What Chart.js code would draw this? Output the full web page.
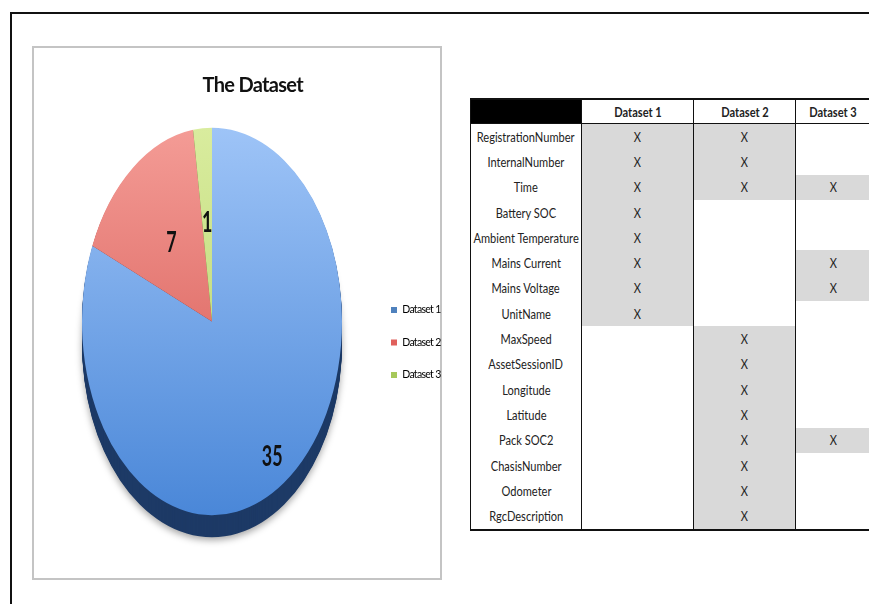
<!DOCTYPE html>
<html>
<head>
<meta charset="utf-8">
<script src="https://cdn.jsdelivr.net/npm/chart.js@4.4.1/dist/chart.umd.min.js"></script>
<style>
  html, body { margin: 0; padding: 0; width: 869px; height: 604px; overflow: hidden; background: #fff; }
  .frame { position: absolute; left: 10px; top: 12px; width: 900px; height: 700px; border: 2px solid #111; box-sizing: border-box; }
  .chartbox { position: absolute; left: 32px; top: 46px; width: 410px; height: 534px; border: 2px solid #c4c4c4; box-sizing: border-box; background: #fff; }
  #pie { position: absolute; left: 34px; top: 48px; }
  table.fields {
    position: absolute; left: 470px; top: 98px; width: 400px;
    border-collapse: collapse; table-layout: fixed;
    font-family: Lato, "Open Sans", sans-serif;
    font-size: 13.5px; color: #222;
    border-top: 2px solid #111; border-left: 1.5px solid #111; border-bottom: 2px solid #111;
  }
  table.fields th, table.fields td { padding: 0; white-space: nowrap; overflow: hidden; }
  table.fields th { height: 23px; font-weight: bold; border-bottom: 1.5px solid #111; border-right: 1px solid #111; background: #fff; }
  table.fields th.corner { background: #000; }
  table.fields td { height: 25.3px; border-right: 1px solid #111; }
  table.fields td.on { background: #d9d9d9; }
  .cell { display: flex; justify-content: center; }
  .cell span { display: inline-block; white-space: nowrap; transform: scaleX(0.82); transform-origin: center; }
</style>
</head>
<body>
<div class="frame"></div>
<div class="chartbox"></div>
<canvas id="pie" width="420" height="529"></canvas>
<table class="fields" id="fields"></table>
<script>
// Pie data
const categories = ['Dataset 1', 'Dataset 2', 'Dataset 3'];
const values = [35, 7, 1];

// Field coverage per dataset
const fieldNames = [
  'RegistrationNumber', 'InternalNumber', 'Time', 'Battery SOC', 'Ambient Temperature',
  'Mains Current', 'Mains Voltage', 'UnitName', 'MaxSpeed', 'AssetSessionID',
  'Longitude', 'Latitude', 'Pack SOC2', 'ChasisNumber', 'Odometer', 'RgcDescription'
];
const dataset1Fields = ['RegistrationNumber', 'InternalNumber', 'Time', 'Battery SOC',
  'Ambient Temperature', 'Mains Current', 'Mains Voltage', 'UnitName'];
const dataset2Fields = ['RegistrationNumber', 'InternalNumber', 'Time', 'MaxSpeed',
  'AssetSessionID', 'Longitude', 'Latitude', 'Pack SOC2', 'ChasisNumber', 'Odometer', 'RgcDescription'];
const dataset3Fields = ['Time', 'Mains Current', 'Mains Voltage', 'Pack SOC2'];

// ---- table ----
function textCell(tag, text) {
  const el = document.createElement(tag);
  if (text) {
    const wrap = document.createElement('div');
    wrap.className = 'cell';
    const span = document.createElement('span');
    span.textContent = text;
    wrap.appendChild(span);
    el.appendChild(wrap);
  }
  return el;
}

(function buildTable() {
  const table = document.getElementById('fields');
  const colWidths = [111, 112, 102, 75];
  const cg = document.createElement('colgroup');
  colWidths.forEach(w => { const c = document.createElement('col'); c.style.width = w + 'px'; cg.appendChild(c); });
  table.appendChild(cg);
  const head = document.createElement('tr');
  const corner = textCell('th', ''); corner.className = 'corner'; head.appendChild(corner);
  categories.forEach(name => head.appendChild(textCell('th', name)));
  table.appendChild(head);
  const sets = [dataset1Fields, dataset2Fields, dataset3Fields];
  fieldNames.forEach(field => {
    const tr = document.createElement('tr');
    tr.appendChild(textCell('td', field));
    sets.forEach(list => {
      const on = list.includes(field);
      const td = textCell('td', on ? 'X' : '');
      if (on) td.className = 'on';
      tr.appendChild(td);
    });
    table.appendChild(tr);
  });
})();

// ---- pie ----
const FONT = 'Lato, "Open Sans", sans-serif';
const TIGHT = '-0.7px';        // tighter tracking for the title and legend text
const PIE_RADIUS = 130;
const PIE_CENTER_X = 178;      // horizontal centre of the pie inside the canvas
const LEGEND_LEFT = 335;       // left edge of the legend block inside the canvas
const LEGEND_GUTTER = 10;      // extra width Chart.js adds around a vertical legend column
const CANVAS_W = 420;
const faceTop = ['#9ec4f7', '#f49c96', '#d9ec9e'];
const faceBottom = ['#4a87d8', '#d24f4a', '#b2d068'];
const sideColors = ['#1d3a66', '#7a2421', '#5d7330'];
const legendColors = ['#4f81bd', '#e0605c', '#a6c85a'];

const legendFont = { family: FONT, size: 10.5 };
const legendBox = 6, legendPad = 22;

// size the legend column so the swatches and the pie centre land where wanted
const measure = document.createElement('canvas').getContext('2d');
measure.font = legendFont.size + 'px ' + FONT;
measure.letterSpacing = TIGHT;
const legendTextW = Math.max(...categories.map(t => measure.measureText(t).width));
const legendW = legendPad + legendBox + legendFont.size / 2 + legendTextW + LEGEND_GUTTER;
const padRight = CANVAS_W - LEGEND_LEFT - legendW;
const padLeft = 2 * PIE_CENTER_X - LEGEND_LEFT;

function faceFill(c) {
  const chart = c.chart, area = chart.chartArea, i = c.dataIndex;
  if (!area || i === undefined) return faceBottom[i || 0];
  const cy = (area.top + area.bottom) / 2;
  const g = chart.ctx.createLinearGradient(0, cy - PIE_RADIUS, 0, cy + PIE_RADIUS);
  g.addColorStop(0, faceTop[i]);
  g.addColorStop(1, faceBottom[i]);
  return g;
}

// Tighter tracking for all text Chart.js measures and draws.
const tracking = {
  id: 'tracking',
  beforeLayout(chart, args, opts) { chart.ctx.letterSpacing = opts.spacing; },
  beforeDraw(chart, args, opts) { chart.ctx.letterSpacing = opts.spacing; }
};

// Tilts the pie into a tall ellipse, gives it a dark extruded rim and prints the values.
const tiltedPie = {
  id: 'tiltedPie',
  beforeDatasetsDraw(chart, args, opts) {
    const arcs = chart.getDatasetMeta(0).data;
    if (!arcs.length) return;
    const { x, y } = arcs[0];
    const ctx = chart.ctx;
    ctx.save();
    ctx.translate(x, y + opts.lift);
    ctx.scale(1, opts.scaleY);
    ctx.translate(-x, -y);
    // extruded side, drawn from the deepest layer upward
    for (let d = opts.depth; d >= 1; d--) {
      ctx.save();
      ctx.translate(0, d / opts.scaleY);
      if (d === opts.depth) {
        ctx.shadowColor = 'rgba(0,0,0,0.35)';
        ctx.shadowBlur = 7;
        ctx.shadowOffsetY = 3;
      }
      arcs.forEach((a, i) => {
        ctx.beginPath();
        ctx.moveTo(a.x, a.y);
        ctx.arc(a.x, a.y, a.outerRadius, a.startAngle, a.endAngle);
        ctx.closePath();
        ctx.fillStyle = sideColors[i];
        ctx.fill();
      });
      ctx.restore();
    }
  },
  afterDatasetsDraw(chart, args, opts) {
    const arcs = chart.getDatasetMeta(0).data;
    if (!arcs.length) return;
    const ctx = chart.ctx;
    ctx.restore();
    ctx.save();
    ctx.letterSpacing = '0px';
    ctx.fillStyle = '#111';
    ctx.font = 'bold 28px ' + FONT;
    ctx.textAlign = 'center';
    ctx.textBaseline = 'middle';
    arcs.forEach((a, i) => {
      const mid = (a.startAngle + a.endAngle) / 2;
      const r = a.outerRadius * opts.labelRadius[i];
      const px = a.x + Math.cos(mid) * r;
      const py = a.y + opts.lift + Math.sin(mid) * r * opts.scaleY;
      ctx.save();
      ctx.translate(px, py);
      ctx.scale(0.64, 1);
      ctx.fillText(String(values[i]), 0, 0);
      ctx.restore();
    });
    ctx.restore();
  }
};

new Chart(document.getElementById('pie'), {
  type: 'pie',
  data: {
    labels: categories,
    datasets: [{
      data: values,
      backgroundColor: faceFill,
      borderWidth: 0,
      radius: PIE_RADIUS,
      clip: false
    }]
  },
  options: {
    responsive: false,
    animation: false,
    events: [],
    layout: { padding: { left: padLeft, right: padRight, top: 0, bottom: 0 } },
    plugins: {
      title: {
        display: true,
        text: 'The Dataset',
        color: '#111',
        font: { family: FONT, size: 20, weight: 'bold', lineHeight: 1.2 },
        padding: { top: 26, bottom: 10 }
      },
      legend: {
        position: 'right',
        fullSize: false,
        labels: {
          boxWidth: legendBox,
          boxHeight: legendBox,
          padding: legendPad,
          color: '#333',
          font: legendFont,
          generateLabels: () => categories.map((t, i) => ({
            text: t, fillStyle: legendColors[i], strokeStyle: legendColors[i], lineWidth: 0, index: i
          }))
        }
      },
      tooltip: { enabled: false },
      tracking: { spacing: TIGHT },
      tiltedPie: { scaleY: 1.49, lift: -21, depth: 22, labelRadius: [0.84, 0.51, 0.51] }
    }
  },
  plugins: [tracking, tiltedPie]
});
</script>
</body>
</html>
